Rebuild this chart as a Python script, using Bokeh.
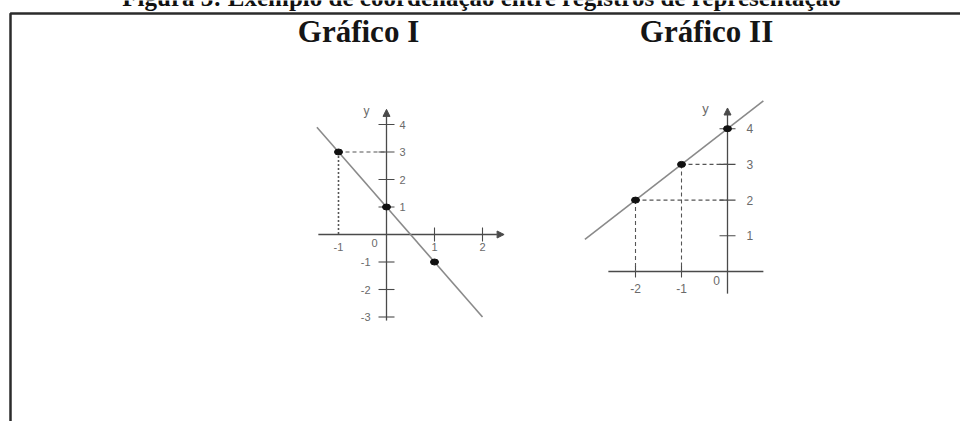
from bokeh.plotting import figure
from bokeh.models import Range1d, Arrow, NormalHead
from bokeh.core.properties import value
from bokeh.embed import file_html
from bokeh.resources import INLINE

# ---- data -------------------------------------------------------------
caption = "Figura 3: Exemplo de coordenação entre registros de representação"
titles = ["Gráfico I", "Gráfico II"]

# Gráfico I : line through (-1, 3), (0, 1), (1, -1)
g1_line_x = [-1.45, 2.0]
g1_line_y = [3.9, -3.0]
g1_pts_x = [-1, 0, 1]
g1_pts_y = [3, 1, -1]
g1_yticks = [4, 3, 2, 1, -1, -2, -3]
g1_ytick_labels = ["4", "3", "2", "1", "-1", "-2", "-3"]
g1_xticks = [1, 2]
g1_xlabel_vals = [-1, 1, 2]
g1_xlabels = ["-1", "1", "2"]

# Gráfico II : line through (-2, 2), (-1, 3), (0, 4)
g2_line_x = [-3.1, 0.78]
g2_line_y = [0.9, 4.78]
g2_pts_x = [-2, -1, 0]
g2_pts_y = [2, 3, 4]
g2_yticks = [4, 3, 2, 1]
g2_ytick_labels = ["4", "3", "2", "1"]
g2_xticks = [-2, -1]
g2_xlabels = ["-2", "-1"]

W, H = 960, 421
AXIS = "#4a4a4a"
LINE = "#8a8a8a"
LABEL = "#6a6a6a"
SANS = value("Liberation Sans")
SERIF = value("Liberation Serif")

p = figure(width=W, height=H, output_backend="svg", toolbar_location=None,
           x_range=Range1d(0, W), y_range=Range1d(H, 0),
           min_border=0, background_fill_color="white", border_fill_color="white")
p.axis.visible = False
p.grid.visible = False
p.outline_line_color = None

# data ranges of the two small coordinate systems (unit sizes in px)
def add_ranges(name, x0_px, y0_px, ux, uy):
    p.extra_x_ranges[name] = Range1d(-x0_px / ux, (W - x0_px) / ux)
    p.extra_y_ranges[name] = Range1d(-(H - y0_px) / uy, y0_px / uy)

add_ranges("g1", 386, 234, 48, 27.5)
add_ranges("g2", 727, 271, 46, 35.7)

# ---- frame and headings ----------------------------------------------
p.line([10, 10, W], [H, 13, 13], line_color="#2b2b2b", line_width=2.5)
p.text(x=[481], y=[-3], text=[caption], text_font=SERIF, text_font_style="bold",
       text_font_size="25px", text_align="center", text_baseline="alphabetic",
       text_color="#111")
p.text(x=[358, 706], y=[31, 31], text=titles, text_font=SERIF,
       text_font_style="bold", text_font_size="31px", text_align="center",
       text_baseline="alphabetic", text_color="#151515")

head = lambda: NormalHead(size=7, fill_color=AXIS, line_color=AXIS)

# ---- Gráfico I --------------------------------------------------------
r = dict(x_range_name="g1", y_range_name="g1")
p.line([-1.42, 2.3], [0, 0], line_color=AXIS, line_width=1.3, **r)
p.add_layout(Arrow(end=head(), x_start=2.3, y_start=0, x_end=2.45, y_end=0,
                   line_color=AXIS, line_width=1.3, **r))
p.line([0, 0], [-3.13, 4.3], line_color=AXIS, line_width=1.3, **r)
p.add_layout(Arrow(end=head(), x_start=0, y_start=4.3, x_end=0, y_end=4.55,
                   line_color=AXIS, line_width=1.3, **r))
p.scatter(x=[0] * len(g1_yticks), y=g1_yticks, marker="dash", size=16,
          line_color=AXIS, line_width=1.1, **r)
p.scatter(x=g1_xticks, y=[0] * len(g1_xticks), marker="dash", angle=1.5708,
          size=14, line_color=AXIS, line_width=1.1, **r)
# dashed guides from (-1, 3)
p.line([g1_pts_x[0], 0], [g1_pts_y[0], g1_pts_y[0]], line_color="#555",
       line_dash="4 3", line_width=1.1, **r)
p.line([g1_pts_x[0], g1_pts_x[0]], [g1_pts_y[0], 0], line_color="#555",
       line_dash="2 2", line_width=1.6, **r)
p.line(g1_line_x, g1_line_y, line_color=LINE, line_width=1.6, **r)
p.ellipse(x=g1_pts_x, y=g1_pts_y, width=8, height=6, width_units="screen",
          height_units="screen", fill_color="#111", line_color="#111", **r)
pos = [v for v in g1_yticks if v > 0]
neg = [v for v in g1_yticks if v < 0]
p.text(x=[0] * len(pos), y=pos, text=[g1_ytick_labels[g1_yticks.index(v)] for v in pos],
       x_offset=13, text_align="left", text_baseline="middle",
       text_font=SANS, text_font_size="11px", text_color=LABEL, **r)
p.text(x=[0] * len(neg), y=neg, text=[g1_ytick_labels[g1_yticks.index(v)] for v in neg],
       x_offset=-16, text_align="right", text_baseline="middle",
       text_font=SANS, text_font_size="11px", text_color=LABEL, **r)
p.text(x=g1_xlabel_vals, y=[0] * len(g1_xlabel_vals), text=g1_xlabels,
       y_offset=12, text_align="center", text_baseline="middle",
       text_font=SANS, text_font_size="11px", text_color=LABEL, **r)
p.text(x=[0], y=[0], text=["0"], x_offset=-12, y_offset=8, text_align="center",
       text_baseline="middle", text_font=SANS, text_font_size="11px",
       text_color=LABEL, **r)
p.text(x=[0], y=[4.55], text=["y"], x_offset=-20, y_offset=2, text_align="center",
       text_baseline="middle", text_font=SANS, text_font_size="12px",
       text_color=LABEL, **r)

# ---- Gráfico II -------------------------------------------------------
r = dict(x_range_name="g2", y_range_name="g2")
p.line([-2.59, 0.78], [0, 0], line_color=AXIS, line_width=1.3, **r)
p.line([0, 0], [-0.62, 4.4], line_color=AXIS, line_width=1.3, **r)
p.add_layout(Arrow(end=head(), x_start=0, y_start=4.4, x_end=0, y_end=4.58,
                   line_color=AXIS, line_width=1.3, **r))
p.scatter(x=[0] * len(g2_yticks), y=g2_yticks, marker="dash", size=16,
          line_color=AXIS, line_width=1.1, **r)
p.scatter(x=g2_xticks, y=[0] * len(g2_xticks), marker="dash", angle=1.5708,
          size=12, line_color=AXIS, line_width=1.1, **r)
for gx, gy in zip(g2_pts_x[:2], g2_pts_y[:2]):
    p.line([gx, 0], [gy, gy], line_color="#555", line_dash="4 3", line_width=1.1, **r)
    p.line([gx, gx], [gy, 0], line_color="#555", line_dash="4 3", line_width=1.1, **r)
p.line(g2_line_x, g2_line_y, line_color=LINE, line_width=1.6, **r)
p.ellipse(x=g2_pts_x, y=g2_pts_y, width=8, height=6, width_units="screen",
          height_units="screen", fill_color="#111", line_color="#111", **r)
p.text(x=[0] * len(g2_yticks), y=g2_yticks, text=g2_ytick_labels,
       x_offset=19, text_align="left", text_baseline="middle",
       text_font=SANS, text_font_size="12px", text_color=LABEL, **r)
p.text(x=g2_xticks, y=[0] * len(g2_xticks), text=g2_xlabels,
       y_offset=17, text_align="center", text_baseline="middle",
       text_font=SANS, text_font_size="12px", text_color=LABEL, **r)
p.text(x=[0], y=[0], text=["0"], x_offset=-11, y_offset=9, text_align="center",
       text_baseline="middle", text_font=SANS, text_font_size="12px",
       text_color=LABEL, **r)
p.text(x=[0], y=[4.58], text=["y"], x_offset=-22, y_offset=1, text_align="center",
       text_baseline="middle", text_font=SANS, text_font_size="13px",
       text_color=LABEL, **r)

open("out.html", "w").write(file_html(p, INLINE))
